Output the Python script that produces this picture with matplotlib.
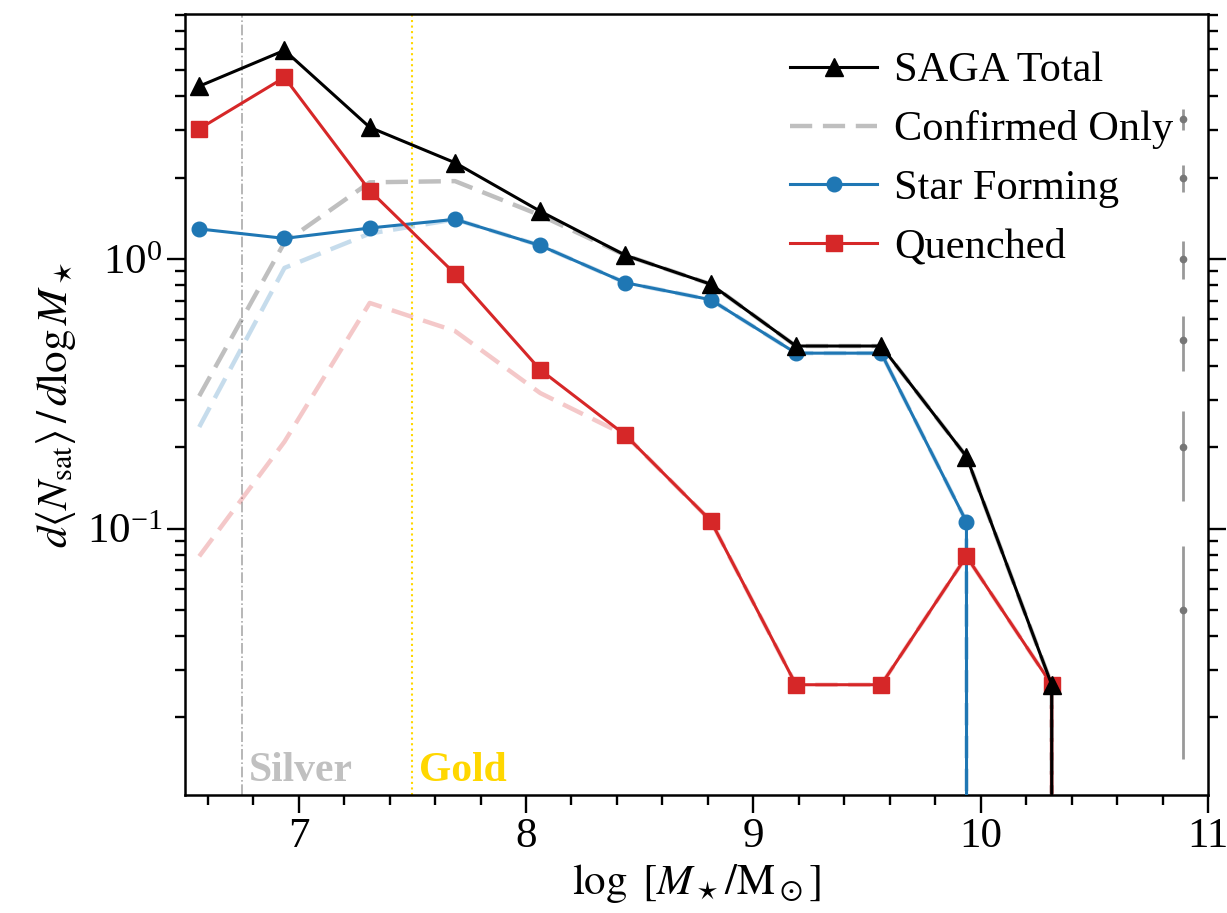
import numpy as np
import matplotlib
matplotlib.use("Agg")
import matplotlib.pyplot as plt
from matplotlib.lines import Line2D
from matplotlib.ticker import MultipleLocator
import matplotlib.transforms as mtransforms

plt.rcParams['font.family'] = ['Liberation Serif', 'DejaVu Serif']
plt.rcParams['mathtext.fontset'] = 'stix'

# bin centres in log stellar mass; the last bin is empty for every sample
log_mstar = [6.5625, 6.9375, 7.3125, 7.6875, 8.0625, 8.4375, 8.8125,
             9.1875, 9.5625, 9.9375, 10.3125, 10.6875]

# d<N_sat>/dlogM* per host
total = [4.36, 5.92, 3.07, 2.27, 1.50, 1.03, 0.805, 0.475, 0.475, 0.185, 0.0264, 0.0]
star_forming = [1.29, 1.19, 1.30, 1.40, 1.12, 0.815, 0.705, 0.447, 0.447, 0.106, 0.0, 0.0]
quenched = [3.03, 4.70, 1.79, 0.88, 0.388, 0.222, 0.107, 0.0264, 0.0264, 0.079, 0.0264, 0.0]

# confirmed satellites only
total_conf = [0.31, 1.15, 1.92, 1.94, 1.45, 1.03, 0.805, 0.475, 0.475, 0.185, 0.0264, 0.0]
sf_conf = [0.238, 0.925, 1.24, 1.40, 1.12, 0.815, 0.705, 0.447, 0.447, 0.106, 0.0, 0.0]
q_conf = [0.079, 0.21, 0.686, 0.54, 0.318, 0.222, 0.107, 0.0264, 0.0264, 0.079, 0.0264, 0.0]

# typical Poisson error bars drawn at the right edge
err_x = 10.89
err_y = [3.3, 2.0, 1.0, 0.5, 0.2, 0.05]
err_size = [0.29, 0.23, 0.16, 0.115, 0.073, 0.036]

silver_limit = 6.75
gold_limit = 7.5

fig = plt.figure(figsize=(12.27, 9.13), dpi=100)
ax = fig.add_axes([0.1508, 0.1292, 0.8337, 0.8551])

dash = (5, 2.4)
ax.plot(log_mstar, total_conf, color='k', alpha=0.25, lw=3.2, dashes=dash, zorder=2)
ax.plot(log_mstar, sf_conf, color='#1f77b4', alpha=0.25, lw=3.2, dashes=dash, zorder=2)
ax.plot(log_mstar, q_conf, color='#d62728', alpha=0.25, lw=3.2, dashes=dash, zorder=2)

ax.plot(log_mstar, star_forming, color='#1f77b4', lw=2.2, marker='o', ms=10.5, zorder=4)
ax.plot(log_mstar, quenched, color='#d62728', lw=2.2, marker='s', ms=11, zorder=5)
ax.plot(log_mstar, total, color='k', lw=2.2, marker='^', ms=13, zorder=6)

ax.errorbar([err_x] * len(err_y), err_y, yerr=err_size, fmt='o', ms=4.5,
            color='#777777', ecolor='#999999', elinewidth=2.0, capsize=0, zorder=3)

ax.axvline(silver_limit, color='#aaaaaa', ls='-.', lw=1.2, zorder=1)
ax.axvline(gold_limit, color='#ffd700', ls=':', lw=1.5, zorder=1)
trans = mtransforms.blended_transform_factory(ax.transData, ax.transAxes)
ax.text(silver_limit + 0.03, 0.006, 'Silver', transform=trans, color='#c0c0c0',
        fontsize=30, fontweight='bold', ha='left', va='bottom')
ax.text(gold_limit + 0.03, 0.006, 'Gold', transform=trans, color='#ffd700',
        fontsize=30, fontweight='bold', ha='left', va='bottom')

ax.set_yscale('log')
ax.set_xlim(6.5, 11)
ax.set_ylim(0.0103, 8.05)
ax.xaxis.set_major_locator(MultipleLocator(1))
ax.xaxis.set_minor_locator(MultipleLocator(0.2))

ax.set_xlabel(r'$\log\ [M_\star/\mathrm{M}_\odot]$', fontsize=31, labelpad=4)
ax.set_ylabel(r'$d\langle N_{\mathrm{sat}}\rangle\,/\,d\log M_\star$', fontsize=31, labelpad=6)

ax.tick_params(which='both', direction='out', top=False, right=True,
               labelsize=31, width=1.7)
ax.tick_params(which='major', length=13)
ax.tick_params(which='minor', length=7.5)
for s in ax.spines.values():
    s.set_linewidth(1.8)

handles = [
    Line2D([], [], color='k', lw=2.2, marker='^', ms=13),
    Line2D([], [], color='k', alpha=0.25, lw=3.2, dashes=dash),
    Line2D([], [], color='#1f77b4', lw=2.2, marker='o', ms=10.5),
    Line2D([], [], color='#d62728', lw=2.2, marker='s', ms=11),
]
labels = ['SAGA Total', 'Confirmed Only', 'Star Forming', 'Quenched']
ax.legend(handles, labels, loc='upper right', frameon=False, fontsize=30.5,
          handlelength=2.05, handletextpad=0.4, labelspacing=0.47,
          borderaxespad=0.3, bbox_to_anchor=(0.995, 0.99))

fig.savefig('out.png', dpi=100)
